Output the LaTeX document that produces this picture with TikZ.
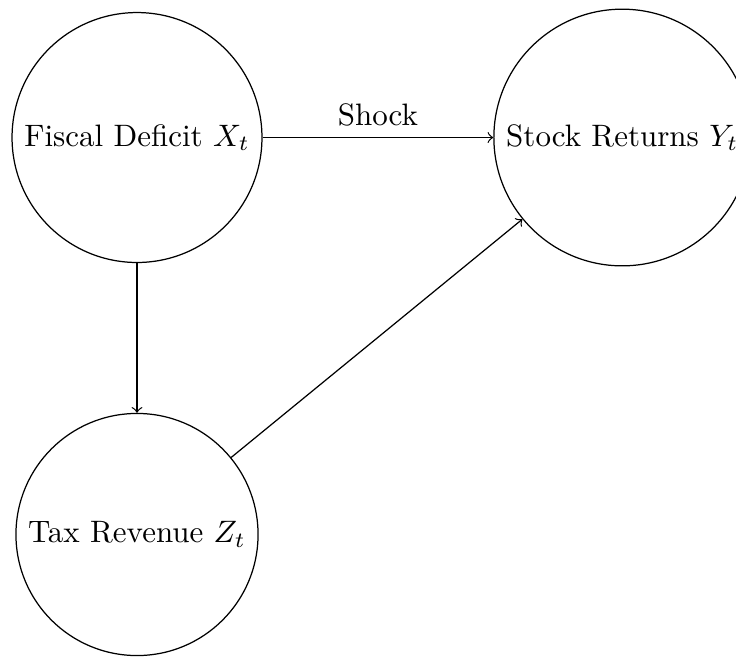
\documentclass[tikz,border=0pt]{standalone}
\begin{document}
\begin{tikzpicture}[var/.style={circle,draw}, edge/.style={->}]
\useasboundingbox (-1.553,-5.913) rectangle (6.79,1.559);
\node[var] (X) at (0,0) {Fiscal Deficit $X_t$};
\node[var] (Y) at (5.5,0) {Stock Returns $Y_t$};
\node[var] (Z) at (0,-4.5) {Tax Revenue $Z_t$};
\draw[edge] (X) -- node[above] {Shock} (Y);
\draw[edge] (X) -- (Z);
\draw[edge] (Z) -- (Y);
\end{tikzpicture}
\end{document}
